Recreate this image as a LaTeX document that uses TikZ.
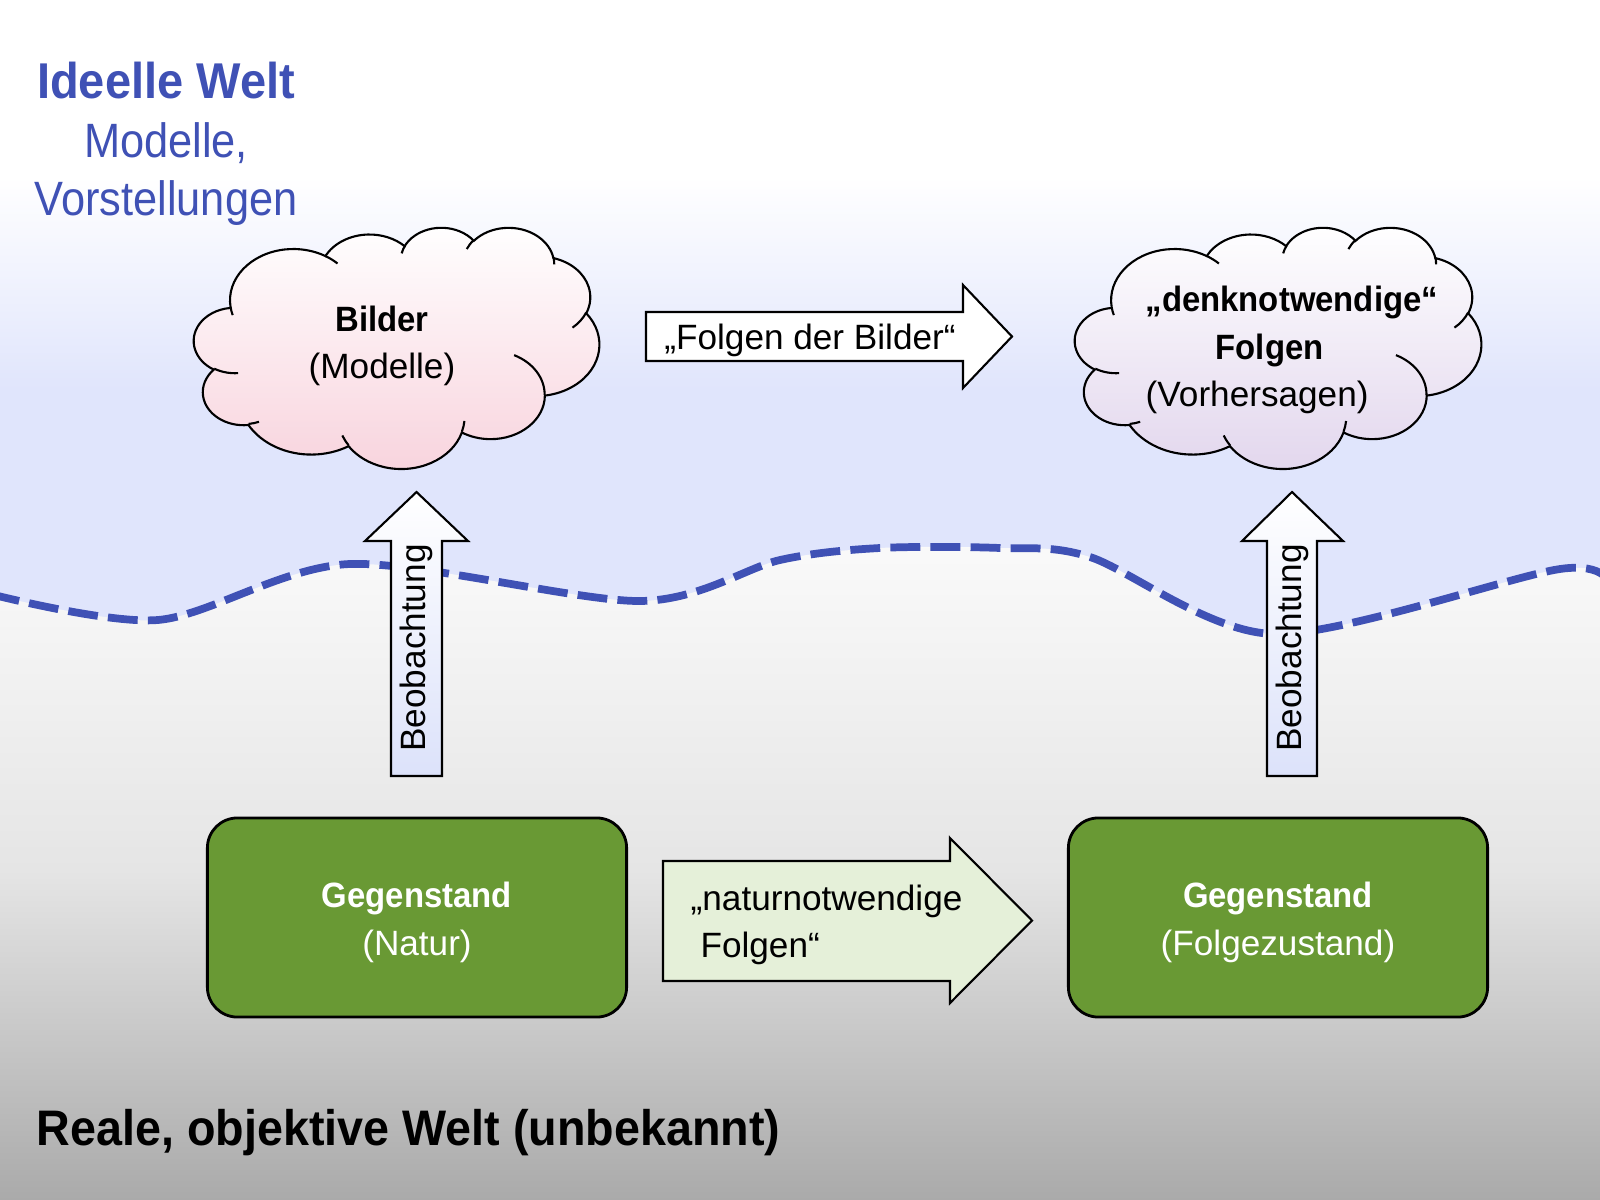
\documentclass[tikz,border=0pt]{standalone}
\usepackage{fontspec}
\setmainfont{Liberation Sans}[BoldFeatures={FakeStretch=0.935}]
\newfontfamily\kopffont{Liberation Sans}[FakeStretch=0.9]

\definecolor{indigo}{HTML}{3F51B5}
\definecolor{himmel}{HTML}{E0E5FC}
\definecolor{gruen}{HTML}{699934}
\definecolor{hellgruen}{HTML}{E5F0D9}
\definecolor{rosa}{HTML}{F8D3DD}
\definecolor{lila}{HTML}{E2D6ED}
\definecolor{pfeilblau}{HTML}{DCE2FA}
\definecolor{grauA}{HTML}{FAFAFA}
\definecolor{grauB}{HTML}{E5E5E5}
\definecolor{grauC}{HTML}{AAAAAA}

% ein Wolkenbogen: Radien, Startwinkel, Winkel (Raster 43.2 x 43.2)
\newcommand\wolkenbogen[4]{arc[start angle={atan2(#1*sin(#3),#2*cos(#3))}, delta angle={#4+Mod(atan2(#1*sin(#3+#4),#2*cos(#3+#4))-atan2(#1*sin(#3),#2*cos(#3))-#4+180,360)-180}, x radius=#1, y radius=#2]}
\newcommand\wolke{(3.9,14.37)
  \wolkenbogen{6.753}{9.19}{-190.4875}{123.7805}
  \wolkenbogen{5.333}{7.267}{-144.1024}{89.9452}
  \wolkenbogen{4.365}{5.945}{-145.8079}{99.723}
  \wolkenbogen{4.857}{6.595}{-130.9861}{117.2417}
  \wolkenbogen{5.333}{7.273}{-78.7089}{109.0269}
  \wolkenbogen{6.775}{9.22}{-46.2673}{130.269}
  \wolkenbogen{5.785}{7.867}{0.625}{114.0333}
  \wolkenbogen{6.752}{9.215}{22.4516}{115.1726}
  \wolkenbogen{7.72}{10.543}{66.2426}{75.711}
  \wolkenbogen{4.36}{5.918}{-274.9421}{146.7356}
  \wolkenbogen{4.345}{5.945}{-246.8285}{152.5189} -- cycle}
\newcommand\wolkeninnen{
  (4.693,26.177) \wolkenbogen{4.345}{5.945}{86.742}{26.4295}
  (6.928,34.899) \wolkenbogen{4.36}{5.918}{73.6105}{11.4475}
  (16.478,39.09) \wolkenbogen{6.752}{9.215}{137.6242}{14.0811}
  (28.827,34.751) \wolkenbogen{6.752}{9.215}{6.4533}{15.9984}
  (34.129,22.954) \wolkenbogen{5.785}{7.867}{-70.2924}{70.9174}
  (41.798,15.354) \wolkenbogen{5.333}{7.273}{30.318}{27.7515}
  (38.324,5.426) \wolkenbogen{4.857}{6.595}{-13.7443}{14.8556}
  (29.078,3.952) \wolkenbogen{4.857}{6.595}{-149.1815}{18.1954}
  (22.141,4.72) \wolkenbogen{4.365}{5.945}{-163.4943}{17.6864}
  (14,5.192) \wolkenbogen{6.753}{9.19}{-66.707}{12.3194}
  (4.127,15.789) \wolkenbogen{6.753}{9.19}{157.6544}{11.8582}}

\begin{document}
\begin{tikzpicture}[x=0.01cm, y=-0.01cm,
    rand/.style={draw=black, line width=0.6pt},
    grundtext/.style={font=\fontsize{10}{13.3}\selectfont, inner sep=0pt},
    gegenstand/.style={rand, line width=0.8pt, fill=gruen, rounded corners=0.3cm,
      minimum width=4.19cm, minimum height=1.99cm, text=white, align=center,
      font=\fontsize{10}{13.7}\selectfont},
    welle/.style={indigo, line width=2.2pt, dash pattern=on 8.5pt off 2.9pt}]
    \useasboundingbox (0,0) rectangle (1600,1200);

    % Hintergrund
    \fill[himmel] (0,0) rectangle (1600,1200);
    \fill[white] (0,0) rectangle (1600,177);
    \shade[top color=white, bottom color=himmel] (0,176) rectangle (1600,390);
    \begin{scope}
        \clip plot [smooth] coordinates { (-10,594) (158,620) (350,564) (640,601) (780,560) (880,548) (1000,548) (1090,557) (1274,634) (1560,569) (1610,585) }
            -- (1610,1210) -- (-10,1210) -- cycle;
        \shade[top color=grauA, bottom color=grauB] (0,540) rectangle (1600,870);
        \shade[top color=grauB, bottom color=grauC] (0,870) rectangle (1600,1200);
    \end{scope}
    \draw[welle] plot [smooth] coordinates { (-10,594) (158,620) (350,564) (640,601) (780,560) (880,548) (1000,548) (1090,557) (1274,634) (1560,569) (1610,585) };

    % Wolken
    \begin{scope}[shift={(194,227)}, x=1cm, y=1cm, xscale=0.09375, yscale=-0.05579]
        \shadedraw[rand, top color=white, bottom color=rosa] \wolke;
        \draw[rand] \wolkeninnen;
    \end{scope}
    \begin{scope}[shift={(1075,227)}, x=1cm, y=1cm, xscale=0.09398, yscale=-0.05579]
        \shadedraw[rand, top color=white, bottom color=lila] \wolke;
        \draw[rand] \wolkeninnen;
    \end{scope}
    \node[grundtext, align=center] (bilder) at (382,346) {\textbf{Bilder}\\(Modelle)};
    \node[grundtext, align=left, anchor=west, font=\fontsize{10}{13.6}\selectfont] (vorhersage) at (1145,350)
        {\textbf{„denknotwendige“}\\\hspace*{0.7cm}\textbf{Folgen}\\(Vorhersagen)};

    % Pfeile
    \draw[rand, fill=white] (646,312) -- (963,312) -- (963,285) -- (1012,336.5) -- (963,388) -- (963,361) -- (646,361) -- cycle;
    \node[grundtext] (bildfolge) at (810,340.5) {„Folgen der Bilder“};

    \shadedraw[rand, top color=white, bottom color=pfeilblau] (391,776) -- (391,541) -- (365,541) -- (416.5,492) -- (468,541) -- (442,541) -- (442,776) -- cycle;
    \node[grundtext, rotate=90] (beob1) at (416.5,648) {Beobachtung};
    \shadedraw[rand, top color=white, bottom color=pfeilblau] (1267,776) -- (1267,541) -- (1242,541) -- (1292,492) -- (1343,541) -- (1317,541) -- (1317,776) -- cycle;
    \node[grundtext, rotate=90] (beob2) at (1292,648) {Beobachtung};

    \draw[rand, fill=hellgruen] (663,861) -- (950,861) -- (950,838) -- (1032,920.5) -- (950,1003) -- (950,981) -- (663,981) -- cycle;
    \node[grundtext, align=left, anchor=west] (naturfolge) at (690,925)
        {„naturnotwendige\\\hspace*{0.28em}Folgen“};

    % Gegenstaende
    \node[gegenstand] (natur) at (417,917.5) {\rule{0pt}{9.8pt}\textbf{Gegenstand}\\(Natur)};
    \node[gegenstand] (zustand) at (1278,917.5) {\rule{0pt}{9.8pt}\textbf{Gegenstand}\\(Folgezustand)};

    % Beschriftung der Welten
    \node[text=indigo, align=center, inner sep=0pt, font=\kopffont\fontsize{13.7}{16.6}\selectfont] (ideell) at (166,144)
        {{\normalfont\bfseries\fontsize{14.3}{16.6}\selectfont Ideelle Welt}\\Modelle,\\Vorstellungen};
    \node[anchor=base west, inner sep=0pt, font=\bfseries\fontsize{14.2}{17}\selectfont] (real) at (36,1145)
        {Reale, objektive Welt (unbekannt)};
\end{tikzpicture}
\end{document}
